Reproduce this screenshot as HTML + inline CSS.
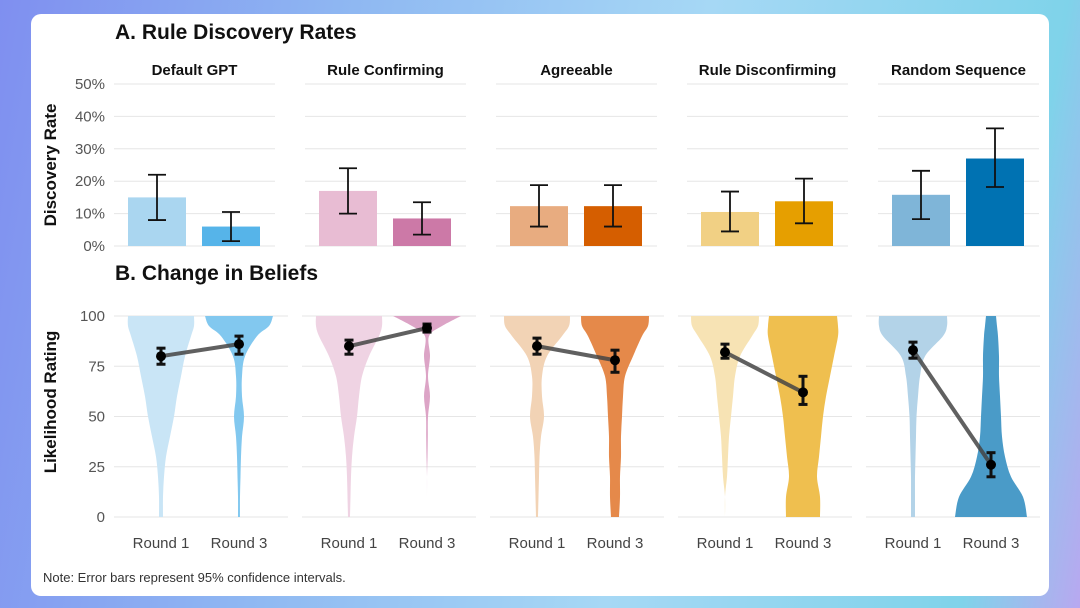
<!DOCTYPE html>
<html><head><meta charset="utf-8"><style>
html,body{margin:0;padding:0;width:1080px;height:608px;overflow:hidden}
body{background:linear-gradient(100deg,#7f8ff0 0%,#8fb8f2 30%,#a6d8f5 60%,#7fd3ea 90%,#b8a8f0 100%)}
svg{position:absolute;left:0;top:0}
text{font-family:"Liberation Sans",sans-serif}
</style></head><body>
<svg id="chart" width="1080" height="608">
<rect x="31" y="14" width="1018" height="582" rx="10" fill="#ffffff"/>
</svg>
<script>
const categories=["Default GPT","Rule Confirming","Agreeable","Rule Disconfirming","Random Sequence"];
const rateR1=[15,17,12.3,10.5,15.8];
const rateR1Lo=[8,10,6,4.5,8.3];
const rateR1Hi=[22,24,18.8,16.8,23.2];
const rateR3=[6,8.5,12.3,13.8,27];
const rateR3Lo=[1.5,3.5,6,7,18.2];
const rateR3Hi=[10.5,13.5,18.8,20.8,36.3];
const rateTicks=[0,10,20,30,40,50];
const meanR1=[80,85,85,82,83];
const meanR1Lo=[76,81,81,79,79];
const meanR1Hi=[84,88,89,86,87];
const meanR3=[86,94,78,62,26];
const meanR3Lo=[81,92,72,56,20];
const meanR3Hi=[90,96,83,70,32];
const ratingTicks=[0,25,50,75,100];
const densityLevels=[0,10,20,30,40,50,60,70,80,90,95,100];
const densR1=[
[2,2,3,5,9,13,16,20,24,30,33,33],
[1,1.5,2,3,5,8,10,13,20,30,33,33],
[1,1.5,2,2.5,4,7,5,5,10,25,32,33],
[0,0,2,3,4,6,8,10,15,27,33,34],
[2,2,2,2.5,3,3.5,5,7,12,30,34,34]];
const densR3=[
[1,1,1.5,2,3,5,3,3,6,18,30,34],
[0,0,0,0.5,0.8,1,3,1,3,2,15,34],
[4,5,5,6,6,7,8,10,18,27,33,34],
[17,17,14,16,18,20,23,27,31,35,35,34],
[36,32,20,14,11,10,9,8,8,7,6,5]];
const colR1=["#aad6f0","#e8bcd3","#e8ac80","#f1d084","#7fb5d8"];
const colR3=["#56b4e9","#cc79a7","#d55e00","#e69f00","#0072b2"];
const vioR1=["#c9e5f6","#efd3e3","#f2d3b5","#f7e3b4","#b3d3e8"];
const vioR3=["#82c8ef","#dca4c6","#e5894a","#efbf4f","#4a9bc8"];

const svg=document.getElementById('chart');
const NS='http://www.w3.org/2000/svg';
function mk(tag,attrs,parent){const e=document.createElementNS(NS,tag);for(const k in attrs)e.setAttribute(k,attrs[k]);(parent||svg).appendChild(e);return e;}
function txt(s,attrs){const t=mk('text',attrs);t.textContent=s;return t;}

const topX0=114,topStep=191,topW=161;
const yTop=v=>246-v*3.24;
const botX0=114,botStep=188,botW=174;
const yBot=v=>517-v*2.01;
const maxDens=36;

let t;
t=txt("A. Rule Discovery Rates",{x:115,y:39,'font-size':21,'font-weight':'bold',fill:'#111'});

t=txt("B. Change in Beliefs",{x:115,y:280,'font-size':21,'font-weight':'bold',fill:'#111'});

t=txt("Discovery Rate",{x:0,y:0,'font-size':17,'font-weight':'bold',fill:'#111','text-anchor':'middle',transform:'translate(56,165) rotate(-90)'});

t=txt("Likelihood Rating",{x:0,y:0,'font-size':17,'font-weight':'bold',fill:'#111','text-anchor':'middle',transform:'translate(56,402) rotate(-90)'});

t=txt("Note: Error bars represent 95% confidence intervals.",{x:43,y:582,'font-size':13,fill:'#333'});


rateTicks.forEach(v=>{
  const l=txt(v+"%",{x:105,y:yTop(v)+5,'font-size':15,fill:'#555','text-anchor':'end'});
  
});
ratingTicks.forEach(v=>{
  const l=txt(String(v),{x:105,y:yBot(v)+5,'font-size':15,fill:'#555','text-anchor':'end'});
  
});

function errbar(cx,lo,hi,cap,sw){
  const g=mk('g',{stroke:'#111','stroke-width':sw,fill:'none'});
  mk('line',{x1:cx,x2:cx,y1:lo,y2:hi},g);
  mk('line',{x1:cx-cap,x2:cx+cap,y1:lo,y2:lo},g);
  mk('line',{x1:cx-cap,x2:cx+cap,y1:hi,y2:hi},g);
  return g;
}
function smooth(pts){
  let d='';
  for(let i=0;i<pts.length-1;i++){
    const p0=pts[Math.max(0,i-1)],p1=pts[i],p2=pts[i+1],p3=pts[Math.min(pts.length-1,i+2)];
    const c1x=p1[0]+(p2[0]-p0[0])/6,c1y=p1[1]+(p2[1]-p0[1])/6;
    const c2x=p2[0]-(p3[0]-p1[0])/6,c2y=p2[1]-(p3[1]-p1[1])/6;
    d+=` C${c1x},${c1y} ${c2x},${c2y} ${p2[0]},${p2[1]}`;
  }
  return d;
}
function violin(cx,dens,color){
  const right=densityLevels.map((lv,i)=>[cx+dens[i]/maxDens*36,yBot(lv)]);
  const left=densityLevels.map((lv,i)=>[cx-dens[i]/maxDens*36,yBot(lv)]).reverse();
  const d=`M${right[0][0]},${right[0][1]}`+smooth(right)+` L${left[0][0]},${left[0][1]}`+smooth(left)+' Z';
  return mk('path',{d:d,fill:color});
}

categories.forEach((c,i)=>{
  const px=topX0+i*topStep;
  rateTicks.forEach(v=>{const g=mk('line',{x1:px,x2:px+topW,y1:yTop(v),y2:yTop(v),stroke:'#e6e6e6','stroke-width':1});
    });
  const ft=txt(c,{x:px+topW/2,y:75,'font-size':15,'font-weight':'bold',fill:'#111','text-anchor':'middle'});
  
  const b1=mk('rect',{x:px+14,y:yTop(rateR1[i]),width:58,height:yTop(0)-yTop(rateR1[i]),fill:colR1[i]});
  
  const b3=mk('rect',{x:px+88,y:yTop(rateR3[i]),width:58,height:yTop(0)-yTop(rateR3[i]),fill:colR3[i]});
  
  let e=errbar(px+43,yTop(rateR1Lo[i]),yTop(rateR1Hi[i]),9,1.8);
  
  e=errbar(px+117,yTop(rateR3Lo[i]),yTop(rateR3Hi[i]),9,1.8);
  

  const bx=botX0+i*botStep, c1=bx+47, c3=bx+125;
  ratingTicks.forEach(v=>{const g=mk('line',{x1:bx,x2:bx+botW,y1:yBot(v),y2:yBot(v),stroke:'#e6e6e6','stroke-width':1});
    });
  let v=violin(c1,densR1[i],vioR1[i]);
  
  v=violin(c3,densR3[i],vioR3[i]);
  
  const ln=mk('line',{x1:c1,y1:yBot(meanR1[i]),x2:c3,y2:yBot(meanR3[i]),stroke:'#444','stroke-width':4,'stroke-opacity':0.85});
  
  e=errbar(c1,yBot(meanR1Lo[i]),yBot(meanR1Hi[i]),4.5,3);
  
  e=errbar(c3,yBot(meanR3Lo[i]),yBot(meanR3Hi[i]),4.5,3);
  
  let p=mk('circle',{cx:c1,cy:yBot(meanR1[i]),r:5,fill:'#000'});
  
  p=mk('circle',{cx:c3,cy:yBot(meanR3[i]),r:5,fill:'#000'});
  
  let r=txt("Round 1",{x:c1,y:548,'font-size':15,fill:'#444','text-anchor':'middle'});
  
  r=txt("Round 3",{x:c3,y:548,'font-size':15,fill:'#444','text-anchor':'middle'});
  
});
</script>
</body></html>
